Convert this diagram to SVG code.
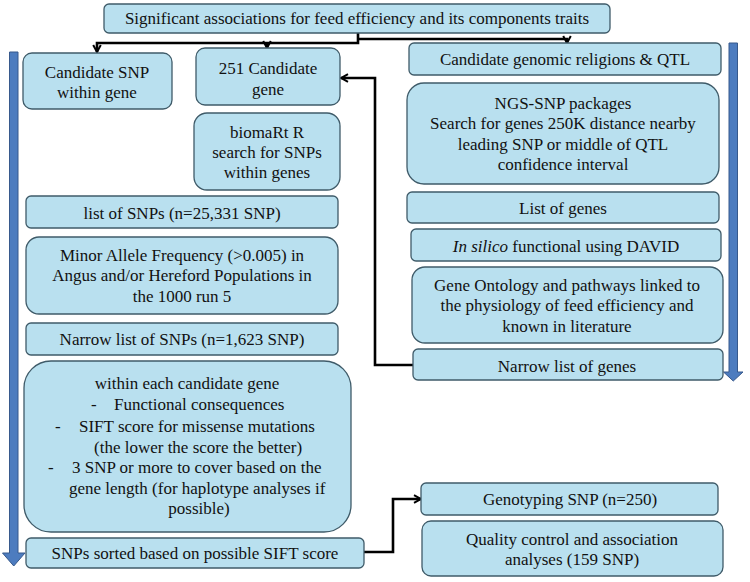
<svg xmlns="http://www.w3.org/2000/svg" width="750" height="582" viewBox="0 0 750 582">
<defs>
<style>
.box{fill:#b9e0ef;stroke:#3f5b69;stroke-width:1.3}
.lb{fill:#111;text-anchor:middle;font-size:17px}
.st{text-anchor:start}
.con{fill:none;stroke:#000;stroke-width:2.6;stroke-linejoin:miter}
.bar{fill:#4d7cbf;stroke:#37598c;stroke-width:1}
</style>
<marker id="ah" viewBox="0 0 10 10" refX="8.5" refY="5" markerWidth="10" markerHeight="10" markerUnits="userSpaceOnUse" orient="auto">
<path d="M1.5,1.2 L8.5,5 L1.5,8.8" fill="none" stroke="#000" stroke-width="2"/>
</marker>
</defs>
<rect width="750" height="582" fill="#fff"/>

<g id="flow-arrows">
<path class="bar" d="M9.5,52 H18 V553 H25 L13.75,566 L2.5,553 H9.5 Z"/>
<path class="bar" d="M729,43 H737.5 V372 H743 L733.25,381 L723.5,372 H729 Z"/>
</g>

<g id="connectors">
<path class="con" d="M358,33 V43 H97 V52" marker-end="url(#ah)"/>
<path class="con" d="M267,43 V48" marker-end="url(#ah)"/>
<path class="con" d="M358,39 H567 V43" marker-end="url(#ah)"/>
<path class="con" d="M413,365 H375 V78 H341" marker-end="url(#ah)"/>
<path class="con" d="M364,552 H393 V499 H421" marker-end="url(#ah)"/>
</g>

<g id="n-top">
<rect class="box" x="104" y="4" width="506" height="29" rx="5"/>
<text class="lb" style="font-family:'Liberation Serif',serif" x="357" y="24">Significant  associations for feed efficiency and its components  traits</text>
</g>

<g id="n-cand-snp">
<rect class="box" x="23" y="53" width="149" height="56" rx="9"/>
<text class="lb" style="font-family:'Liberation Serif',serif" x="97" y="78">Candidate  SNP</text>
<text class="lb" style="font-family:'Liberation Serif',serif" x="97" y="98">within gene</text>
</g>

<g id="n-251">
<rect class="box" x="196" y="48" width="144" height="57" rx="9"/>
<text class="lb" style="font-family:'Liberation Serif',serif" x="268" y="74">251 Candidate</text>
<text class="lb" style="font-family:'Liberation Serif',serif" x="268" y="95">gene</text>
</g>

<g id="n-biomart">
<rect class="box" x="194" y="113" width="146" height="77" rx="13"/>
<text class="lb" style="font-family:'Liberation Serif',serif" x="267" y="138">biomaRt R</text>
<text class="lb" style="font-family:'Liberation Serif',serif" x="267" y="158">search  for SNPs</text>
<text class="lb" style="font-family:'Liberation Serif',serif" x="267" y="178">within genes</text>
</g>

<g id="n-list-snps">
<rect class="box" x="26" y="196" width="312" height="32" rx="5"/>
<text class="lb" style="font-family:'Liberation Serif',serif" x="182" y="219">list of SNPs (n=25,331 SNP)</text>
</g>

<g id="n-maf">
<rect class="box" x="26" y="237" width="312" height="77" rx="13"/>
<text class="lb" style="font-family:'Liberation Serif',serif" x="182" y="261">Minor Allele Frequency  (&gt;0.005)  in</text>
<text class="lb" style="font-family:'Liberation Serif',serif" x="182" y="281">Angus  and/or Hereford Populations in</text>
<text class="lb" style="font-family:'Liberation Serif',serif" x="182" y="302">the 1000 run 5</text>
</g>

<g id="n-narrow-snps">
<rect class="box" x="26" y="323" width="312" height="32" rx="5"/>
<text class="lb" style="font-family:'Liberation Serif',serif" x="182" y="345">Narrow list of SNPs (n=1,623 SNP)</text>
</g>

<g id="n-within">
<rect class="box" x="24" y="361" width="327" height="171" rx="27"/>
<text class="lb" style="font-family:'Liberation Serif',serif" x="187" y="389">within each candidate  gene</text>
<text class="lb st" style="font-family:'Liberation Serif',serif" x="91" y="410">-</text>
<text class="lb st" style="font-family:'Liberation Serif',serif" x="114" y="410">Functional consequences</text>
<text class="lb st" style="font-family:'Liberation Serif',serif" x="55" y="432">-</text>
<text class="lb st" style="font-family:'Liberation Serif',serif" x="79" y="432">SIFT  score for missense  mutations</text>
<text class="lb st" style="font-family:'Liberation Serif',serif" x="94" y="453">(the lower the score the better)</text>
<text class="lb st" style="font-family:'Liberation Serif',serif" x="48" y="473">-</text>
<text class="lb st" style="font-family:'Liberation Serif',serif" x="72" y="473">3 SNP or more to cover based on the</text>
<text class="lb st" style="font-family:'Liberation Serif',serif" x="69" y="494">gene length (for haplotype  analyses  if</text>
<text class="lb" style="font-family:'Liberation Serif',serif" x="199" y="514">possible)</text>
</g>

<g id="n-sorted">
<rect class="box" x="26" y="538" width="338" height="30" rx="5"/>
<text class="lb" style="font-family:'Liberation Serif',serif" x="195" y="559">SNPs sorted based on possible SIFT  score</text>
</g>

<g id="n-genomic">
<rect class="box" x="409" y="43" width="312" height="32" rx="5"/>
<text class="lb" style="font-family:'Liberation Serif',serif" x="565" y="65">Candidate  genomic  religions &amp; QTL</text>
</g>

<g id="n-ngs">
<rect class="box" x="407" y="83" width="312" height="101" rx="17"/>
<text class="lb" style="font-family:'Liberation Serif',serif" x="563" y="109">NGS-SNP  packages</text>
<text class="lb" style="font-family:'Liberation Serif',serif" x="563" y="129">Search  for genes  250K distance  nearby</text>
<text class="lb" style="font-family:'Liberation Serif',serif" x="563" y="150">leading  SNP or middle  of QTL</text>
<text class="lb" style="font-family:'Liberation Serif',serif" x="563" y="170">confidence  interval</text>
</g>

<g id="n-list-genes">
<rect class="box" x="407" y="192" width="312" height="31" rx="5"/>
<text class="lb" style="font-family:'Liberation Serif',serif" x="563" y="214">List of genes</text>
</g>

<g id="n-insilico">
<rect class="box" x="411" y="229" width="310" height="32" rx="5"/>
<text class="lb" style="font-family:'Liberation Serif',serif" x="566" y="252"><tspan font-style="italic">In silico</tspan> functional using DAVID</text>
</g>

<g id="n-go">
<rect class="box" x="412" y="267" width="311" height="76" rx="13"/>
<text class="lb" style="font-family:'Liberation Serif',serif" x="567" y="291">Gene Ontology  and pathways  linked  to</text>
<text class="lb" style="font-family:'Liberation Serif',serif" x="567" y="311">the physiology  of feed efficiency  and</text>
<text class="lb" style="font-family:'Liberation Serif',serif" x="567" y="332">known  in literature</text>
</g>

<g id="n-narrow-genes">
<rect class="box" x="413" y="349" width="310" height="31" rx="5"/>
<text class="lb" style="font-family:'Liberation Serif',serif" x="567" y="372">Narrow list of genes</text>
</g>

<g id="n-genotyping">
<rect class="box" x="421" y="483" width="297" height="32" rx="5"/>
<text class="lb" style="font-family:'Liberation Serif',serif" x="570" y="505">Genotyping  SNP (n=250)</text>
</g>

<g id="n-quality">
<rect class="box" x="422" y="521" width="301" height="55" rx="9"/>
<text class="lb" style="font-family:'Liberation Serif',serif" x="572" y="545">Quality control and association</text>
<text class="lb" style="font-family:'Liberation Serif',serif" x="572" y="565">analyses  (159 SNP)</text>
</g>
</svg>
